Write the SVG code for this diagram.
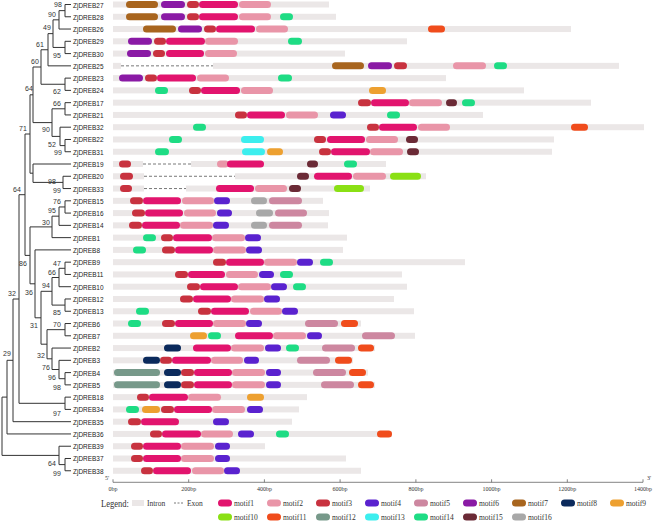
<svg xmlns="http://www.w3.org/2000/svg" width="660" height="524" viewBox="0 0 660 524">
<style>
.t{stroke:#333;stroke-width:1;fill:none}
.lb{font-family:"Liberation Sans",Arial,sans-serif;font-size:8px;fill:#222}
.bs{font-family:"Liberation Sans",Arial,sans-serif;font-size:7px;fill:#333;text-anchor:middle}
.b{fill:#ebe7e7}
.dx{stroke:#555;stroke-width:.8;stroke-dasharray:3 2}
.ax{font-family:"Liberation Serif","Times New Roman",serif;font-size:6px;fill:#333;text-anchor:middle}
.lg{font-family:"Liberation Serif","Times New Roman",serif;font-size:7.5px;fill:#333}
.m1{fill:#e2146e}.m2{fill:#e995a8}.m3{fill:#c8323f}.m4{fill:#5a22cf}.m5{fill:#cd87a0}.m6{fill:#8a1aa5}.m7{fill:#a8651e}.m8{fill:#0b2a5c}
.m9{fill:#eda030}.m10{fill:#8ae014}.m11{fill:#f04c1c}.m12{fill:#77998a}.m13{fill:#3ceeee}.m14{fill:#1edc84}.m15{fill:#6b2a36}.m16{fill:#a8a8a8}
</style>

<g id="connectors">
<path class="t" d="M65 4.5H71M65 16.77H71M59 29.04H71M65 41.31H71M65 53.58H71M48 65.85H71M65 78.12H71M65 90.39H71M65 102.66H71M65 114.93H71M60 127.2H71M65 139.47H71M65 151.74H71M33 164.01H71M63 176.28H71M63 188.55H71M65 200.82H71M65 213.09H71M59 225.36H71M52 237.63H71M35 249.9H71M65 262.17H71M65 274.44H71M59 286.71H71M65 298.98H71M65 311.25H71M65 323.52H71M65 335.79H71M52 348.06H71M59 360.33H71M65 372.6H71M65 384.87H71M65 397.14H71M65 409.41H71M13 421.68H71M7 433.95H71M59 446.22H71M65 458.49H71M65 470.76H71"/>
<path class="t" d="M65 4.5V16.77M59 10.64H65M59 10.64V29.04M53 19.84H59M65 41.31V53.58M53 47.45H65M53 19.84V47.45M48 33.64H53M48 33.64V65.85M41 49.75H48M65 78.12V90.39M41 84.26H65M41 49.75V84.26M33 67H41M65 102.66V114.93M52 108.8H65M65 139.47V151.74M60 145.6H65M60 127.2V145.6M52 136.4H60M52 108.8V136.4M33 122.6H52M33 67V122.6M30 94.8H33M63 176.28V188.55M33 182.4H63M33 164.01V182.4M30 173.2H33M30 94.8V173.2M25 134H30"/>
<path class="t" d="M65 200.82V213.09M59 206.96H65M59 206.96V225.36M52 216.16H59M52 216.16V237.63M30 226.9H52M65 262.17V274.44M59 268.3H65M59 268.3V286.71M52 277.5H59M65 298.98V311.25M52 305.1H65M52 277.5V305.1M41 291.3H52M65 323.52V335.79M47 329.66H65M65 372.6V384.87M59 378.7H65M59 360.33V378.7M52 369.5H59M52 348.06V369.5M47 358.8H52M47 329.66V358.8M41 344.2H47M41 291.3V344.2M35 317.8H41M35 249.9V317.8M30 283.8H35M30 226.9V283.8M25 255.4H30M25 134V255.4M19 194.7H25M65 397.14V409.41M19 403.3H65M19 194.7V403.3M13 299H19M13 299V421.68M7 360.3H13M7 360.3V433.95M2 397.1H7M65 458.49V470.76M59 464.6H65M59 446.22V464.6M2 455.4H59M2 397.1V455.4"/>
</g>

<g id="bootstrap">
<text class="bs" x="58" y="6.5">98</text>
<text class="bs" x="52" y="16.5">90</text>
<text class="bs" x="47" y="29.5">49</text>
<text class="bs" x="40" y="46.5">61</text>
<text class="bs" x="57" y="57.5">95</text>
<text class="bs" x="35" y="63.5">60</text>
<text class="bs" x="29" y="90.5">64</text>
<text class="bs" x="57" y="93.5">62</text>
<text class="bs" x="57" y="105.5">66</text>
<text class="bs" x="23" y="130.5">71</text>
<text class="bs" x="46" y="131.5">90</text>
<text class="bs" x="52" y="146.5">52</text>
<text class="bs" x="58" y="154.5">99</text>
<text class="bs" x="52" y="183.5">98</text>
<text class="bs" x="57" y="192.5">99</text>
<text class="bs" x="17" y="191.5">64</text>
<text class="bs" x="57" y="203.5">76</text>
<text class="bs" x="52" y="212.5">95</text>
<text class="bs" x="46" y="224.5">30</text>
<text class="bs" x="23" y="265.5">86</text>
<text class="bs" x="57" y="265.5">47</text>
<text class="bs" x="52" y="274.5">66</text>
<text class="bs" x="46" y="287.5">94</text>
<text class="bs" x="29" y="294.5">36</text>
<text class="bs" x="12" y="295.5">32</text>
<text class="bs" x="57" y="314.5">85</text>
<text class="bs" x="34" y="327.5">31</text>
<text class="bs" x="57" y="326.5">70</text>
<text class="bs" x="7" y="355.5">29</text>
<text class="bs" x="41" y="357.5">32</text>
<text class="bs" x="46" y="369.5">76</text>
<text class="bs" x="52" y="379.5">96</text>
<text class="bs" x="57" y="389.5">98</text>
<text class="bs" x="57" y="415.5">97</text>
<text class="bs" x="52" y="465.5">64</text>
<text class="bs" x="57" y="475.5">99</text>
</g>

<g id="ZjDREB27" transform="translate(0,4.5)"><text class="lb" x="73" y="3" textLength="30.5" lengthAdjust="spacingAndGlyphs">ZjDREB27</text><rect class="b" x="113" y="-3" width="216" height="6"/>
<rect class="m7" x="126" y="-3.5" width="32" height="7" rx="3.5"/><rect class="m6" x="161" y="-3.5" width="24" height="7" rx="3.5"/><rect class="m3" x="187" y="-3.5" width="12" height="7" rx="3.5"/><rect class="m1" x="199" y="-3.5" width="39" height="7" rx="3.5"/><rect class="m2" x="239" y="-3.5" width="32" height="7" rx="3.5"/></g>

<g id="ZjDREB28" transform="translate(0,16.77)"><text class="lb" x="73" y="3" textLength="30.5" lengthAdjust="spacingAndGlyphs">ZjDREB28</text><rect class="b" x="113" y="-3" width="223" height="6"/>
<rect class="m7" x="126" y="-3.5" width="32" height="7" rx="3.5"/><rect class="m6" x="161" y="-3.5" width="24" height="7" rx="3.5"/><rect class="m3" x="187" y="-3.5" width="12" height="7" rx="3.5"/><rect class="m1" x="199" y="-3.5" width="39" height="7" rx="3.5"/><rect class="m2" x="239" y="-3.5" width="32" height="7" rx="3.5"/><rect class="m14" x="280" y="-3.5" width="13" height="7" rx="3.5"/></g>

<g id="ZjDREB26" transform="translate(0,29.04)"><text class="lb" x="73" y="3" textLength="30.5" lengthAdjust="spacingAndGlyphs">ZjDREB26</text><rect class="b" x="113" y="-3" width="458" height="6"/>
<rect class="m7" x="143" y="-3.5" width="33" height="7" rx="3.5"/><rect class="m6" x="178" y="-3.5" width="24" height="7" rx="3.5"/><rect class="m3" x="204" y="-3.5" width="12" height="7" rx="3.5"/><rect class="m1" x="216" y="-3.5" width="39" height="7" rx="3.5"/><rect class="m2" x="256" y="-3.5" width="32" height="7" rx="3.5"/><rect class="m11" x="428" y="-3.5" width="17" height="7" rx="3.5"/></g>

<g id="ZjDREB29" transform="translate(0,41.31)"><text class="lb" x="73" y="3" textLength="30.5" lengthAdjust="spacingAndGlyphs">ZjDREB29</text><rect class="b" x="113" y="-3" width="294" height="6"/>
<rect class="m6" x="128" y="-3.5" width="24" height="7" rx="3.5"/><rect class="m3" x="154" y="-3.5" width="12" height="7" rx="3.5"/><rect class="m1" x="166" y="-3.5" width="39" height="7" rx="3.5"/><rect class="m2" x="205" y="-3.5" width="33" height="7" rx="3.5"/><rect class="m14" x="288" y="-3.5" width="14" height="7" rx="3.5"/></g>

<g id="ZjDREB30" transform="translate(0,53.58)"><text class="lb" x="73" y="3" textLength="30.5" lengthAdjust="spacingAndGlyphs">ZjDREB30</text><rect class="b" x="113" y="-3" width="232" height="6"/>
<rect class="m6" x="127" y="-3.5" width="24" height="7" rx="3.5"/><rect class="m3" x="153" y="-3.5" width="12" height="7" rx="3.5"/><rect class="m1" x="166" y="-3.5" width="38" height="7" rx="3.5"/><rect class="m2" x="205" y="-3.5" width="32" height="7" rx="3.5"/></g>

<g id="ZjDREB25" transform="translate(0,65.85)"><text class="lb" x="73" y="3" textLength="30.5" lengthAdjust="spacingAndGlyphs">ZjDREB25</text><rect class="b" x="113" y="-3" width="8" height="6"/><line class="dx" x1="121" y1="0" x2="213" y2="0"/><rect class="b" x="213" y="-3" width="406" height="6"/>
<rect class="m7" x="332" y="-3.5" width="32" height="7" rx="3.5"/><rect class="m6" x="368" y="-3.5" width="24" height="7" rx="3.5"/><rect class="m3" x="394" y="-3.5" width="13" height="7" rx="3.5"/><rect class="m2" x="453" y="-3.5" width="33" height="7" rx="3.5"/><rect class="m14" x="494" y="-3.5" width="13" height="7" rx="3.5"/></g>

<g id="ZjDREB23" transform="translate(0,78.12)"><text class="lb" x="73" y="3" textLength="30.5" lengthAdjust="spacingAndGlyphs">ZjDREB23</text><rect class="b" x="113" y="-3" width="333" height="6"/>
<rect class="m6" x="119" y="-3.5" width="24" height="7" rx="3.5"/><rect class="m3" x="145" y="-3.5" width="12" height="7" rx="3.5"/><rect class="m1" x="157" y="-3.5" width="39" height="7" rx="3.5"/><rect class="m2" x="197" y="-3.5" width="32" height="7" rx="3.5"/><rect class="m14" x="278" y="-3.5" width="14" height="7" rx="3.5"/></g>

<g id="ZjDREB24" transform="translate(0,90.39)"><text class="lb" x="73" y="3" textLength="30.5" lengthAdjust="spacingAndGlyphs">ZjDREB24</text><rect class="b" x="113" y="-3" width="411" height="6"/>
<rect class="m14" x="155" y="-3.5" width="13" height="7" rx="3.5"/><rect class="m3" x="189" y="-3.5" width="12" height="7" rx="3.5"/><rect class="m1" x="201" y="-3.5" width="39" height="7" rx="3.5"/><rect class="m2" x="241" y="-3.5" width="32" height="7" rx="3.5"/><rect class="m9" x="369" y="-3.5" width="17" height="7" rx="3.5"/></g>

<g id="ZjDREB17" transform="translate(0,102.66)"><text class="lb" x="73" y="3" textLength="30.5" lengthAdjust="spacingAndGlyphs">ZjDREB17</text><rect class="b" x="113" y="-3" width="478" height="6"/>
<rect class="m3" x="358" y="-3.5" width="13" height="7" rx="3.5"/><rect class="m1" x="371" y="-3.5" width="38" height="7" rx="3.5"/><rect class="m2" x="409" y="-3.5" width="33" height="7" rx="3.5"/><rect class="m15" x="446" y="-3.5" width="11" height="7" rx="3.5"/><rect class="m14" x="462" y="-3.5" width="13" height="7" rx="3.5"/></g>

<g id="ZjDREB21" transform="translate(0,114.93)"><text class="lb" x="73" y="3" textLength="30.5" lengthAdjust="spacingAndGlyphs">ZjDREB21</text><rect class="b" x="113" y="-3" width="370" height="6"/>
<rect class="m3" x="235" y="-3.5" width="12" height="7" rx="3.5"/><rect class="m1" x="247" y="-3.5" width="38" height="7" rx="3.5"/><rect class="m2" x="286" y="-3.5" width="32" height="7" rx="3.5"/><rect class="m4" x="330" y="-3.5" width="16" height="7" rx="3.5"/><rect class="m14" x="387" y="-3.5" width="13" height="7" rx="3.5"/></g>

<g id="ZjDREB32" transform="translate(0,127.2)"><text class="lb" x="73" y="3" textLength="30.5" lengthAdjust="spacingAndGlyphs">ZjDREB32</text><rect class="b" x="113" y="-3" width="531" height="6"/>
<rect class="m14" x="193" y="-3.5" width="13" height="7" rx="3.5"/><rect class="m3" x="367" y="-3.5" width="12" height="7" rx="3.5"/><rect class="m1" x="379" y="-3.5" width="38" height="7" rx="3.5"/><rect class="m2" x="418" y="-3.5" width="32" height="7" rx="3.5"/><rect class="m11" x="571" y="-3.5" width="17" height="7" rx="3.5"/></g>

<g id="ZjDREB22" transform="translate(0,139.47)"><text class="lb" x="73" y="3" textLength="30.5" lengthAdjust="spacingAndGlyphs">ZjDREB22</text><rect class="b" x="113" y="-3" width="441" height="6"/>
<rect class="m14" x="169" y="-3.5" width="13" height="7" rx="3.5"/><rect class="m13" x="241" y="-3.5" width="23" height="7" rx="3.5"/><rect class="m3" x="314" y="-3.5" width="12" height="7" rx="3.5"/><rect class="m1" x="327" y="-3.5" width="38" height="7" rx="3.5"/><rect class="m2" x="366" y="-3.5" width="32" height="7" rx="3.5"/><rect class="m15" x="406" y="-3.5" width="12" height="7" rx="3.5"/></g>

<g id="ZjDREB31" transform="translate(0,151.74)"><text class="lb" x="73" y="3" textLength="30.5" lengthAdjust="spacingAndGlyphs">ZjDREB31</text><rect class="b" x="113" y="-3" width="439" height="6"/>
<rect class="m14" x="155" y="-3.5" width="14" height="7" rx="3.5"/><rect class="m13" x="242" y="-3.5" width="23" height="7" rx="3.5"/><rect class="m9" x="267" y="-3.5" width="16" height="7" rx="3.5"/><rect class="m3" x="319" y="-3.5" width="12" height="7" rx="3.5"/><rect class="m1" x="331" y="-3.5" width="39" height="7" rx="3.5"/><rect class="m2" x="370" y="-3.5" width="33" height="7" rx="3.5"/><rect class="m15" x="407" y="-3.5" width="12" height="7" rx="3.5"/></g>

<g id="ZjDREB19" transform="translate(0,164.01)"><text class="lb" x="73" y="3" textLength="30.5" lengthAdjust="spacingAndGlyphs">ZjDREB19</text><rect class="b" x="113" y="-3" width="30" height="6"/><line class="dx" x1="143" y1="0" x2="191" y2="0"/><rect class="b" x="191" y="-3" width="195" height="6"/>
<rect class="m3" x="119" y="-3.5" width="12" height="7" rx="3.5"/><rect class="m2" x="217" y="-3.5" width="12" height="7" rx="3.5"/><rect class="m1" x="227" y="-3.5" width="37" height="7" rx="3.5"/><rect class="m15" x="307" y="-3.5" width="11" height="7" rx="3.5"/><rect class="m14" x="344" y="-3.5" width="13" height="7" rx="3.5"/></g>

<g id="ZjDREB20" transform="translate(0,176.28)"><text class="lb" x="73" y="3" textLength="30.5" lengthAdjust="spacingAndGlyphs">ZjDREB20</text><rect class="b" x="113" y="-3" width="31" height="6"/><line class="dx" x1="144" y1="0" x2="235" y2="0"/><rect class="b" x="235" y="-3" width="191" height="6"/>
<rect class="m3" x="120" y="-3.5" width="13" height="7" rx="3.5"/><rect class="m15" x="297" y="-3.5" width="12" height="7" rx="3.5"/><rect class="m1" x="314" y="-3.5" width="38" height="7" rx="3.5"/><rect class="m2" x="353" y="-3.5" width="33" height="7" rx="3.5"/><rect class="m10" x="390" y="-3.5" width="31" height="7" rx="3.5"/></g>

<g id="ZjDREB33" transform="translate(0,188.55)"><text class="lb" x="73" y="3" textLength="30.5" lengthAdjust="spacingAndGlyphs">ZjDREB33</text><rect class="b" x="113" y="-3" width="31" height="6"/><line class="dx" x1="144" y1="0" x2="186" y2="0"/><rect class="b" x="186" y="-3" width="184" height="6"/>
<rect class="m3" x="120" y="-3.5" width="12" height="7" rx="3.5"/><rect class="m1" x="216" y="-3.5" width="38" height="7" rx="3.5"/><rect class="m2" x="255" y="-3.5" width="32" height="7" rx="3.5"/><rect class="m15" x="289" y="-3.5" width="12" height="7" rx="3.5"/><rect class="m10" x="334" y="-3.5" width="30" height="7" rx="3.5"/></g>

<g id="ZjDREB15" transform="translate(0,200.82)"><text class="lb" x="73" y="3" textLength="30.5" lengthAdjust="spacingAndGlyphs">ZjDREB15</text><rect class="b" x="113" y="-3" width="210" height="6"/>
<rect class="m3" x="130" y="-3.5" width="13" height="7" rx="3.5"/><rect class="m1" x="143" y="-3.5" width="38" height="7" rx="3.5"/><rect class="m2" x="182" y="-3.5" width="32" height="7" rx="3.5"/><rect class="m4" x="214" y="-3.5" width="16" height="7" rx="3.5"/><rect class="m16" x="251" y="-3.5" width="16" height="7" rx="3.5"/><rect class="m5" x="269" y="-3.5" width="33" height="7" rx="3.5"/></g>

<g id="ZjDREB16" transform="translate(0,213.09)"><text class="lb" x="73" y="3" textLength="30.5" lengthAdjust="spacingAndGlyphs">ZjDREB16</text><rect class="b" x="113" y="-3" width="216" height="6"/>
<rect class="m3" x="132" y="-3.5" width="13" height="7" rx="3.5"/><rect class="m1" x="145" y="-3.5" width="38" height="7" rx="3.5"/><rect class="m2" x="184" y="-3.5" width="32" height="7" rx="3.5"/><rect class="m4" x="217" y="-3.5" width="15" height="7" rx="3.5"/><rect class="m16" x="256" y="-3.5" width="17" height="7" rx="3.5"/><rect class="m5" x="275" y="-3.5" width="32" height="7" rx="3.5"/></g>

<g id="ZjDREB14" transform="translate(0,225.36)"><text class="lb" x="73" y="3" textLength="30.5" lengthAdjust="spacingAndGlyphs">ZjDREB14</text><rect class="b" x="113" y="-3" width="215" height="6"/>
<rect class="m3" x="129" y="-3.5" width="13" height="7" rx="3.5"/><rect class="m1" x="142" y="-3.5" width="38" height="7" rx="3.5"/><rect class="m2" x="180" y="-3.5" width="33" height="7" rx="3.5"/><rect class="m4" x="213" y="-3.5" width="16" height="7" rx="3.5"/><rect class="m16" x="251" y="-3.5" width="16" height="7" rx="3.5"/><rect class="m5" x="269" y="-3.5" width="33" height="7" rx="3.5"/></g>

<g id="ZjDREB1" transform="translate(0,237.63)"><text class="lb" x="73" y="3" textLength="27" lengthAdjust="spacingAndGlyphs">ZjDREB1</text><rect class="b" x="113" y="-3" width="234" height="6"/>
<rect class="m14" x="143" y="-3.5" width="13" height="7" rx="3.5"/><rect class="m3" x="161" y="-3.5" width="12" height="7" rx="3.5"/><rect class="m1" x="173" y="-3.5" width="39" height="7" rx="3.5"/><rect class="m2" x="212" y="-3.5" width="33" height="7" rx="3.5"/><rect class="m4" x="245" y="-3.5" width="16" height="7" rx="3.5"/></g>

<g id="ZjDREB8" transform="translate(0,249.9)"><text class="lb" x="73" y="3" textLength="27" lengthAdjust="spacingAndGlyphs">ZjDREB8</text><rect class="b" x="113" y="-3" width="230" height="6"/>
<rect class="m14" x="133" y="-3.5" width="13" height="7" rx="3.5"/><rect class="m3" x="162" y="-3.5" width="13" height="7" rx="3.5"/><rect class="m1" x="175" y="-3.5" width="38" height="7" rx="3.5"/><rect class="m2" x="213" y="-3.5" width="33" height="7" rx="3.5"/><rect class="m4" x="246" y="-3.5" width="16" height="7" rx="3.5"/></g>

<g id="ZjDREB9" transform="translate(0,262.17)"><text class="lb" x="73" y="3" textLength="27" lengthAdjust="spacingAndGlyphs">ZjDREB9</text><rect class="b" x="113" y="-3" width="352" height="6"/>
<rect class="m3" x="213" y="-3.5" width="13" height="7" rx="3.5"/><rect class="m1" x="226" y="-3.5" width="38" height="7" rx="3.5"/><rect class="m2" x="264" y="-3.5" width="33" height="7" rx="3.5"/><rect class="m4" x="297" y="-3.5" width="16" height="7" rx="3.5"/><rect class="m14" x="320" y="-3.5" width="13" height="7" rx="3.5"/></g>

<g id="ZjDREB11" transform="translate(0,274.44)"><text class="lb" x="73" y="3" textLength="30.5" lengthAdjust="spacingAndGlyphs">ZjDREB11</text><rect class="b" x="113" y="-3" width="289" height="6"/>
<rect class="m3" x="175" y="-3.5" width="13" height="7" rx="3.5"/><rect class="m1" x="188" y="-3.5" width="37" height="7" rx="3.5"/><rect class="m2" x="226" y="-3.5" width="32" height="7" rx="3.5"/><rect class="m4" x="259" y="-3.5" width="15" height="7" rx="3.5"/><rect class="m14" x="280" y="-3.5" width="13" height="7" rx="3.5"/></g>

<g id="ZjDREB10" transform="translate(0,286.71)"><text class="lb" x="73" y="3" textLength="30.5" lengthAdjust="spacingAndGlyphs">ZjDREB10</text><rect class="b" x="113" y="-3" width="294" height="6"/>
<rect class="m3" x="187" y="-3.5" width="13" height="7" rx="3.5"/><rect class="m1" x="200" y="-3.5" width="38" height="7" rx="3.5"/><rect class="m2" x="238" y="-3.5" width="33" height="7" rx="3.5"/><rect class="m4" x="271" y="-3.5" width="16" height="7" rx="3.5"/><rect class="m14" x="293" y="-3.5" width="13" height="7" rx="3.5"/></g>

<g id="ZjDREB12" transform="translate(0,298.98)"><text class="lb" x="73" y="3" textLength="30.5" lengthAdjust="spacingAndGlyphs">ZjDREB12</text><rect class="b" x="113" y="-3" width="281" height="6"/>
<rect class="m3" x="180" y="-3.5" width="13" height="7" rx="3.5"/><rect class="m1" x="193" y="-3.5" width="38" height="7" rx="3.5"/><rect class="m2" x="231" y="-3.5" width="33" height="7" rx="3.5"/><rect class="m4" x="264" y="-3.5" width="16" height="7" rx="3.5"/></g>

<g id="ZjDREB13" transform="translate(0,311.25)"><text class="lb" x="73" y="3" textLength="30.5" lengthAdjust="spacingAndGlyphs">ZjDREB13</text><rect class="b" x="113" y="-3" width="301" height="6"/>
<rect class="m14" x="136" y="-3.5" width="13" height="7" rx="3.5"/><rect class="m3" x="198" y="-3.5" width="13" height="7" rx="3.5"/><rect class="m1" x="211" y="-3.5" width="38" height="7" rx="3.5"/><rect class="m2" x="250" y="-3.5" width="32" height="7" rx="3.5"/><rect class="m4" x="282" y="-3.5" width="16" height="7" rx="3.5"/></g>

<g id="ZjDREB6" transform="translate(0,323.52)"><text class="lb" x="73" y="3" textLength="27" lengthAdjust="spacingAndGlyphs">ZjDREB6</text><rect class="b" x="113" y="-3" width="248" height="6"/>
<rect class="m14" x="128" y="-3.5" width="13" height="7" rx="3.5"/><rect class="m3" x="162" y="-3.5" width="13" height="7" rx="3.5"/><rect class="m1" x="175" y="-3.5" width="38" height="7" rx="3.5"/><rect class="m2" x="213" y="-3.5" width="33" height="7" rx="3.5"/><rect class="m4" x="246" y="-3.5" width="16" height="7" rx="3.5"/><rect class="m5" x="305" y="-3.5" width="33" height="7" rx="3.5"/><rect class="m11" x="341" y="-3.5" width="17" height="7" rx="3.5"/></g>

<g id="ZjDREB7" transform="translate(0,335.79)"><text class="lb" x="73" y="3" textLength="27" lengthAdjust="spacingAndGlyphs">ZjDREB7</text><rect class="b" x="113" y="-3" width="302" height="6"/>
<rect class="m9" x="190" y="-3.5" width="17" height="7" rx="3.5"/><rect class="m14" x="208" y="-3.5" width="13" height="7" rx="3.5"/><rect class="m1" x="235" y="-3.5" width="38" height="7" rx="3.5"/><rect class="m2" x="273" y="-3.5" width="33" height="7" rx="3.5"/><rect class="m4" x="307" y="-3.5" width="15" height="7" rx="3.5"/><rect class="m5" x="362" y="-3.5" width="33" height="7" rx="3.5"/></g>

<g id="ZjDREB2" transform="translate(0,348.06)"><text class="lb" x="73" y="3" textLength="27" lengthAdjust="spacingAndGlyphs">ZjDREB2</text><rect class="b" x="113" y="-3" width="262" height="6"/>
<rect class="m8" x="164" y="-3.5" width="17" height="7" rx="3.5"/><rect class="m1" x="193" y="-3.5" width="38" height="7" rx="3.5"/><rect class="m2" x="231" y="-3.5" width="33" height="7" rx="3.5"/><rect class="m4" x="265" y="-3.5" width="16" height="7" rx="3.5"/><rect class="m14" x="286" y="-3.5" width="13" height="7" rx="3.5"/><rect class="m5" x="322" y="-3.5" width="33" height="7" rx="3.5"/><rect class="m11" x="358" y="-3.5" width="16" height="7" rx="3.5"/></g>

<g id="ZjDREB3" transform="translate(0,360.33)"><text class="lb" x="73" y="3" textLength="27" lengthAdjust="spacingAndGlyphs">ZjDREB3</text><rect class="b" x="113" y="-3" width="240" height="6"/>
<rect class="m8" x="143" y="-3.5" width="17" height="7" rx="3.5"/><rect class="m3" x="160" y="-3.5" width="12" height="7" rx="3.5"/><rect class="m1" x="172" y="-3.5" width="39" height="7" rx="3.5"/><rect class="m2" x="211" y="-3.5" width="32" height="7" rx="3.5"/><rect class="m4" x="244" y="-3.5" width="15" height="7" rx="3.5"/><rect class="m5" x="297" y="-3.5" width="33" height="7" rx="3.5"/><rect class="m11" x="335" y="-3.5" width="17" height="7" rx="3.5"/></g>

<g id="ZjDREB4" transform="translate(0,372.6)"><text class="lb" x="73" y="3" textLength="27" lengthAdjust="spacingAndGlyphs">ZjDREB4</text><rect class="b" x="113" y="-3" width="255" height="6"/>
<rect class="m12" x="114" y="-3.5" width="46" height="7" rx="3.5"/><rect class="m8" x="164" y="-3.5" width="17" height="7" rx="3.5"/><rect class="m3" x="181" y="-3.5" width="13" height="7" rx="3.5"/><rect class="m1" x="194" y="-3.5" width="38" height="7" rx="3.5"/><rect class="m2" x="232" y="-3.5" width="33" height="7" rx="3.5"/><rect class="m4" x="266" y="-3.5" width="15" height="7" rx="3.5"/><rect class="m5" x="313" y="-3.5" width="33" height="7" rx="3.5"/><rect class="m11" x="349" y="-3.5" width="17" height="7" rx="3.5"/></g>

<g id="ZjDREB5" transform="translate(0,384.87)"><text class="lb" x="73" y="3" textLength="27" lengthAdjust="spacingAndGlyphs">ZjDREB5</text><rect class="b" x="113" y="-3" width="262" height="6"/>
<rect class="m12" x="114" y="-3.5" width="46" height="7" rx="3.5"/><rect class="m8" x="164" y="-3.5" width="17" height="7" rx="3.5"/><rect class="m3" x="181" y="-3.5" width="13" height="7" rx="3.5"/><rect class="m1" x="194" y="-3.5" width="38" height="7" rx="3.5"/><rect class="m2" x="232" y="-3.5" width="33" height="7" rx="3.5"/><rect class="m4" x="266" y="-3.5" width="15" height="7" rx="3.5"/><rect class="m5" x="321" y="-3.5" width="33" height="7" rx="3.5"/><rect class="m11" x="358" y="-3.5" width="16" height="7" rx="3.5"/></g>

<g id="ZjDREB18" transform="translate(0,397.14)"><text class="lb" x="73" y="3" textLength="30.5" lengthAdjust="spacingAndGlyphs">ZjDREB18</text><rect class="b" x="113" y="-3" width="194" height="6"/>
<rect class="m3" x="137" y="-3.5" width="12" height="7" rx="3.5"/><rect class="m1" x="149" y="-3.5" width="39" height="7" rx="3.5"/><rect class="m2" x="188" y="-3.5" width="33" height="7" rx="3.5"/><rect class="m9" x="247" y="-3.5" width="17" height="7" rx="3.5"/></g>

<g id="ZjDREB34" transform="translate(0,409.41)"><text class="lb" x="73" y="3" textLength="30.5" lengthAdjust="spacingAndGlyphs">ZjDREB34</text><rect class="b" x="113" y="-3" width="186" height="6"/>
<rect class="m14" x="126" y="-3.5" width="13" height="7" rx="3.5"/><rect class="m9" x="142" y="-3.5" width="18" height="7" rx="3.5"/><rect class="m3" x="161" y="-3.5" width="13" height="7" rx="3.5"/><rect class="m1" x="174" y="-3.5" width="38" height="7" rx="3.5"/><rect class="m2" x="212" y="-3.5" width="33" height="7" rx="3.5"/><rect class="m4" x="247" y="-3.5" width="16" height="7" rx="3.5"/></g>

<g id="ZjDREB35" transform="translate(0,421.68)"><text class="lb" x="73" y="3" textLength="30.5" lengthAdjust="spacingAndGlyphs">ZjDREB35</text><rect class="b" x="113" y="-3" width="179" height="6"/>
<rect class="m3" x="128" y="-3.5" width="13" height="7" rx="3.5"/><rect class="m1" x="141" y="-3.5" width="38" height="7" rx="3.5"/><rect class="m4" x="213" y="-3.5" width="16" height="7" rx="3.5"/></g>

<g id="ZjDREB36" transform="translate(0,433.95)"><text class="lb" x="73" y="3" textLength="30.5" lengthAdjust="spacingAndGlyphs">ZjDREB36</text><rect class="b" x="113" y="-3" width="279" height="6"/>
<rect class="m3" x="150" y="-3.5" width="12" height="7" rx="3.5"/><rect class="m1" x="162" y="-3.5" width="39" height="7" rx="3.5"/><rect class="m2" x="201" y="-3.5" width="32" height="7" rx="3.5"/><rect class="m4" x="238" y="-3.5" width="16" height="7" rx="3.5"/><rect class="m14" x="276" y="-3.5" width="13" height="7" rx="3.5"/><rect class="m11" x="377" y="-3.5" width="15" height="7" rx="3.5"/></g>

<g id="ZjDREB39" transform="translate(0,446.22)"><text class="lb" x="73" y="3" textLength="30.5" lengthAdjust="spacingAndGlyphs">ZjDREB39</text><rect class="b" x="113" y="-3" width="152" height="6"/>
<rect class="m3" x="131" y="-3.5" width="12" height="7" rx="3.5"/><rect class="m1" x="143" y="-3.5" width="38" height="7" rx="3.5"/><rect class="m2" x="181" y="-3.5" width="33" height="7" rx="3.5"/><rect class="m4" x="215" y="-3.5" width="15" height="7" rx="3.5"/></g>

<g id="ZjDREB37" transform="translate(0,458.49)"><text class="lb" x="73" y="3" textLength="30.5" lengthAdjust="spacingAndGlyphs">ZjDREB37</text><rect class="b" x="113" y="-3" width="233" height="6"/>
<rect class="m3" x="131" y="-3.5" width="12" height="7" rx="3.5"/><rect class="m1" x="143" y="-3.5" width="38" height="7" rx="3.5"/><rect class="m2" x="181" y="-3.5" width="33" height="7" rx="3.5"/><rect class="m4" x="215" y="-3.5" width="15" height="7" rx="3.5"/></g>

<g id="ZjDREB38" transform="translate(0,470.76)"><text class="lb" x="73" y="3" textLength="30.5" lengthAdjust="spacingAndGlyphs">ZjDREB38</text><rect class="b" x="113" y="-3" width="248" height="6"/>
<rect class="m3" x="141" y="-3.5" width="12" height="7" rx="3.5"/><rect class="m1" x="153" y="-3.5" width="38" height="7" rx="3.5"/><rect class="m2" x="192" y="-3.5" width="32" height="7" rx="3.5"/><rect class="m4" x="224" y="-3.5" width="16" height="7" rx="3.5"/></g>

<g id="axis">
<path d="M113 482.3H643M113 479.3V482.3M188.7 479.3V482.3M264.4 479.3V482.3M340.1 479.3V482.3M415.9 479.3V482.3M491.6 479.3V482.3M567.3 479.3V482.3M643 479.3V482.3" stroke="#666" stroke-width="0.8" fill="none"/>
<text class="ax" x="107" y="480">5'</text><text class="ax" x="649" y="480">3'</text>
<text class="ax" x="113" y="490.5">0bp</text><text class="ax" x="188.7" y="490.5">200bp</text><text class="ax" x="264.4" y="490.5">400bp</text><text class="ax" x="340.1" y="490.5">600bp</text><text class="ax" x="415.9" y="490.5">800bp</text><text class="ax" x="491.6" y="490.5">1000bp</text><text class="ax" x="567.3" y="490.5">1200bp</text><text class="ax" x="643" y="490.5">1400bp</text>
</g>

<g id="legend">
<text x="101" y="506.5" style="font-family:'Liberation Serif','Times New Roman',serif;font-size:10.5px;fill:#333" textLength="28" lengthAdjust="spacingAndGlyphs">Legend:</text>
<rect class="b" x="132" y="500" width="12" height="6"/><text class="lg" x="147" y="505.5">Intron</text>
<line class="dx" x1="174" y1="503" x2="184" y2="503" style="stroke-dasharray:2 1.5"/><text class="lg" x="187" y="505.5">Exon</text>
<rect class="m1" x="218" y="499.5" width="14" height="7" rx="3.5"/><text class="lg" x="234" y="505.5">motif1</text>
<rect class="m2" x="267" y="499.5" width="14" height="7" rx="3.5"/><text class="lg" x="283" y="505.5">motif2</text>
<rect class="m3" x="316" y="499.5" width="14" height="7" rx="3.5"/><text class="lg" x="332" y="505.5">motif3</text>
<rect class="m4" x="365" y="499.5" width="14" height="7" rx="3.5"/><text class="lg" x="381" y="505.5">motif4</text>
<rect class="m5" x="414" y="499.5" width="14" height="7" rx="3.5"/><text class="lg" x="430" y="505.5">motif5</text>
<rect class="m6" x="463" y="499.5" width="14" height="7" rx="3.5"/><text class="lg" x="479" y="505.5">motif6</text>
<rect class="m7" x="512" y="499.5" width="14" height="7" rx="3.5"/><text class="lg" x="528" y="505.5">motif7</text>
<rect class="m8" x="561" y="499.5" width="14" height="7" rx="3.5"/><text class="lg" x="577" y="505.5">motif8</text>
<rect class="m9" x="610" y="499.5" width="14" height="7" rx="3.5"/><text class="lg" x="626" y="505.5">motif9</text>
<rect class="m10" x="218" y="513.5" width="14" height="7" rx="3.5"/><text class="lg" x="234" y="519.5">motif10</text>
<rect class="m11" x="267" y="513.5" width="14" height="7" rx="3.5"/><text class="lg" x="283" y="519.5">motif11</text>
<rect class="m12" x="316" y="513.5" width="14" height="7" rx="3.5"/><text class="lg" x="332" y="519.5">motif12</text>
<rect class="m13" x="365" y="513.5" width="14" height="7" rx="3.5"/><text class="lg" x="381" y="519.5">motif13</text>
<rect class="m14" x="414" y="513.5" width="14" height="7" rx="3.5"/><text class="lg" x="430" y="519.5">motif14</text>
<rect class="m15" x="463" y="513.5" width="14" height="7" rx="3.5"/><text class="lg" x="479" y="519.5">motif15</text>
<rect class="m16" x="512" y="513.5" width="14" height="7" rx="3.5"/><text class="lg" x="528" y="519.5">motif16</text>
</g>
</svg>
